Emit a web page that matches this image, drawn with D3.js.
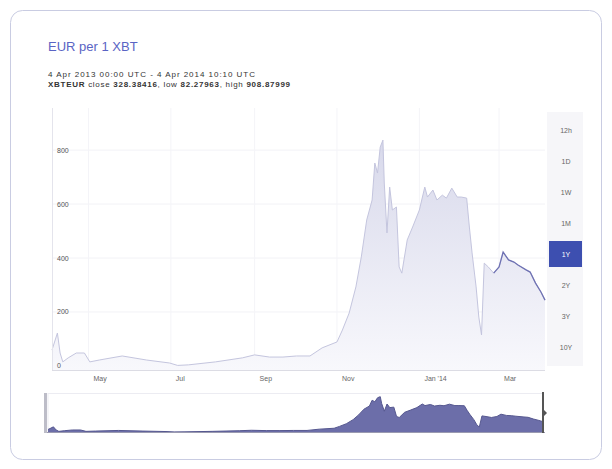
<!DOCTYPE html>
<html>
<head>
<meta charset="utf-8">
<script src="https://cdn.jsdelivr.net/npm/d3@7"></script>
<style>
  body { margin: 0; background: #fff; font-family: "Liberation Sans", Arial, sans-serif; }
  svg { display: block; }
</style>
</head>
<body>
<svg id="chart" width="612" height="469"></svg>
<script>
// price points (EUR per XBT)
const dates = [
  "2013-04-04", "2013-04-08", "2013-04-10", "2013-04-12", "2013-04-16", "2013-04-22",
  "2013-04-28", "2013-05-02", "2013-05-09", "2013-05-26", "2013-06-13", "2013-06-30",
  "2013-07-06", "2013-07-14", "2013-08-03", "2013-08-23", "2013-09-01", "2013-09-12",
  "2013-09-22", "2013-10-02", "2013-10-12", "2013-10-21", "2013-11-01", "2013-11-05",
  "2013-11-10", "2013-11-15", "2013-11-19", "2013-11-23", "2013-11-27", "2013-11-29",
  "2013-12-01", "2013-12-03", "2013-12-05", "2013-12-06", "2013-12-08", "2013-12-10",
  "2013-12-12", "2013-12-15", "2013-12-17", "2013-12-19", "2013-12-23", "2013-12-27",
  "2014-01-01", "2014-01-05", "2014-01-07", "2014-01-11", "2014-01-14", "2014-01-18",
  "2014-01-21", "2014-01-25", "2014-01-29", "2014-02-01", "2014-02-05", "2014-02-07",
  "2014-02-09", "2014-02-12", "2014-02-14", "2014-02-16", "2014-02-18", "2014-02-21",
  "2014-02-25", "2014-03-01", "2014-03-04", "2014-03-08", "2014-03-12", "2014-03-15",
  "2014-03-21", "2014-03-24", "2014-03-28", "2014-04-01", "2014-04-04"
];
const prices = [
  59, 122, 48, 15, 30, 48,
  48, 15, 22, 37, 22, 11,
  2, 4, 15, 30, 41, 33,
  33, 37, 37, 67, 89, 133,
  196, 293, 404, 541, 615, 752,
  715, 811, 837, 678, 493, 663,
  578, 589, 367, 344, 467, 515,
  578, 663, 626, 652, 615, 633,
  622, 659, 626, 626, 622, 515,
  419, 293, 181, 115, 381, 367,
  344, 367, 422, 393, 385, 374,
  356, 348, 307, 274, 244
];
const yTicks = [0, 200, 400, 600, 800];
const monthTicks = ["2013-05-01", "2013-07-01", "2013-09-01", "2013-11-01", "2014-01-01", "2014-03-01"];
const monthLabels = ["May", "Jul", "Sep", "Nov", "Jan '14", "Mar"];
const ranges = ["12h", "1D", "1W", "1M", "1Y", "2Y", "3Y", "10Y"];
const selectedRange = "1Y";

const parse = d3.timeParse("%Y-%m-%d");
const data = dates.map((d, i) => ({ date: parse(d), value: prices[i] }));

const svg = d3.select("#chart");

// card
svg.append("rect")
  .attr("x", 10.5).attr("y", 10.5)
  .attr("width", 591).attr("height", 449)
  .attr("rx", 12)
  .attr("fill", "#fff")
  .attr("stroke", "#c9cce2");

// title + info
svg.append("text")
  .attr("x", 48).attr("y", 51)
  .attr("font-size", 13)
  .attr("fill", "#5a64c4")
  .text("EUR per 1 XBT");

svg.append("text")
  .attr("x", 48).attr("y", 77)
  .attr("font-size", 8)
  .attr("fill", "#333")
  .attr("textLength", 207)
  .text("4 Apr 2013 00:00 UTC - 4 Apr 2014 10:10 UTC");

const info = svg.append("text")
  .attr("x", 48).attr("y", 86.5)
  .attr("font-size", 8)
  .attr("fill", "#333")
  .attr("textLength", 242);
[["XBTEUR", true], [" close ", false], ["328.38416", true], [", low ", false],
 ["82.27963", true], [", high ", false], ["908.87999", true]].forEach(([t, b]) => {
  info.append("tspan").attr("font-weight", b ? "bold" : "normal").text(t);
});

// scales
const x = d3.scaleTime()
  .domain([parse("2013-04-04"), parse("2014-04-04")])
  .range([52, 545]);
const y = d3.scaleLinear().domain([-15, 956]).range([370, 108]);

// gridlines
svg.append("g")
  .selectAll("line")
  .data(yTicks)
  .join("line")
  .attr("x1", 52).attr("x2", 545)
  .attr("y1", (d) => y(d)).attr("y2", (d) => y(d))
  .attr("stroke", "#f2f2f6");

svg.append("g")
  .selectAll("line")
  .data(monthTicks)
  .join("line")
  .attr("x1", (d) => x(parse(d))).attr("x2", (d) => x(parse(d)))
  .attr("y1", 108).attr("y2", 370)
  .attr("stroke", "#f4f4f8");

// area gradient
const defs = svg.append("defs");
const grad = defs.append("linearGradient")
  .attr("id", "fillGrad")
  .attr("gradientUnits", "userSpaceOnUse")
  .attr("x1", 0).attr("x2", 0)
  .attr("y1", 140).attr("y2", 370);
grad.append("stop").attr("offset", "0%").attr("stop-color", "#d8d9eb");
grad.append("stop").attr("offset", "100%").attr("stop-color", "#f8f8fc");

const area = d3.area()
  .x((d) => x(d.date))
  .y0(y(-15))
  .y1((d) => y(d.value));
const line = d3.line()
  .x((d) => x(d.date))
  .y((d) => y(d.value));

svg.append("path")
  .datum(data)
  .attr("d", area)
  .attr("fill", "url(#fillGrad)");

svg.append("path")
  .datum(data)
  .attr("d", line)
  .attr("fill", "none")
  .attr("stroke", "#c4c5de")
  .attr("stroke-width", 1);

// latest stretch drawn darker (hovered)
svg.append("path")
  .datum(data.filter((d) => d.date >= parse("2014-02-25")))
  .attr("d", line)
  .attr("fill", "none")
  .attr("stroke", "#6f72b3")
  .attr("stroke-width", 1.3);

// axes lines
svg.append("line")
  .attr("x1", 52).attr("x2", 545).attr("y1", 370.5).attr("y2", 370.5)
  .attr("stroke", "#dcdce4");
svg.append("line")
  .attr("x1", 52.5).attr("x2", 52.5).attr("y1", 108).attr("y2", 370)
  .attr("stroke", "#e4e4ec");

// y labels
svg.append("g")
  .selectAll("text")
  .data(yTicks)
  .join("text")
  .attr("x", 57)
  .attr("y", (d) => y(d) + 2.5)
  .attr("font-size", 7)
  .attr("fill", "#555")
  .text((d) => d);

// x labels
svg.append("g")
  .selectAll("text")
  .data(monthTicks)
  .join("text")
  .attr("x", (d) => x(parse(d)) + 5)
  .attr("y", 381)
  .attr("font-size", 7)
  .attr("fill", "#666")
  .text((d, i) => monthLabels[i]);

// range selector
const rs = d3.scalePoint().domain(ranges).range([130, 347]);
svg.append("rect")
  .attr("x", 547).attr("y", 112)
  .attr("width", 36).attr("height", 254)
  .attr("fill", "#f6f6f9");
svg.append("rect")
  .attr("x", 549).attr("y", rs(selectedRange) - 13)
  .attr("width", 33).attr("height", 26)
  .attr("fill", "#3d4fb0");
svg.append("g")
  .selectAll("text")
  .data(ranges)
  .join("text")
  .attr("x", 566)
  .attr("y", (d) => rs(d) + 2.5)
  .attr("text-anchor", "middle")
  .attr("font-size", 7)
  .attr("fill", (d) => (d === selectedRange ? "#fff" : "#666"))
  .text((d) => d);

// navigator
const nx = d3.scaleTime().domain(x.domain()).range([48, 543]);
const ny = d3.scaleLinear().domain([0, 900]).range([432, 394]);

svg.append("rect")
  .attr("x", 48).attr("y", 393.5)
  .attr("width", 495).attr("height", 39)
  .attr("fill", "none")
  .attr("stroke", "#ececf2");

svg.append("path")
  .datum(data)
  .attr("d", d3.area().x((d) => nx(d.date)).y0(432).y1((d) => ny(Math.max(d.value, 0))))
  .attr("fill", "#6c6ea9");
svg.append("path")
  .datum(data)
  .attr("d", d3.line().x((d) => nx(d.date)).y((d) => ny(Math.max(d.value, 0))))
  .attr("fill", "none")
  .attr("stroke", "#55578f")
  .attr("stroke-width", 1);

svg.append("line")
  .attr("x1", 46).attr("x2", 545).attr("y1", 432.5).attr("y2", 432.5)
  .attr("stroke", "#9a9ab0");

svg.append("rect")
  .attr("x", 44).attr("y", 393)
  .attr("width", 3).attr("height", 40)
  .attr("fill", "#bdbdc8");
svg.append("rect")
  .attr("x", 542).attr("y", 392)
  .attr("width", 2).attr("height", 41)
  .attr("fill", "#555");
svg.append("path")
  .attr("d", "M544,410 L547,413 L544,416 Z")
  .attr("fill", "#555");
</script>
</body>
</html>
